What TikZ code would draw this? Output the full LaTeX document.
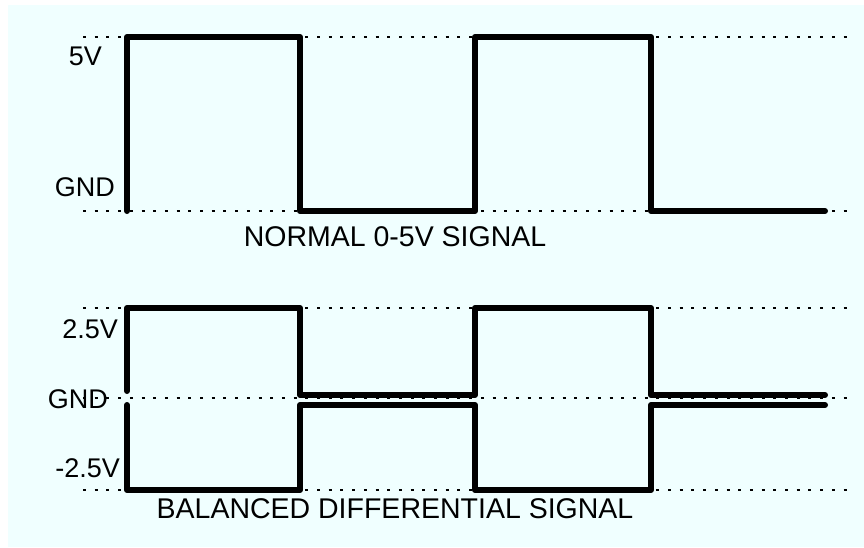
\documentclass[tikz,border=0pt]{standalone}
\usepackage{fontspec}
\setmainfont{Liberation Sans}
\definecolor{bgcyan}{RGB}{240,255,255}
\tikzset{
  guide/.style={line width=2pt, dash pattern=on 3pt off 8.7pt},
  wave/.style={line width=6pt, line cap=round, line join=round},
  lbl/.style={inner sep=0pt, font=\fontsize{27}{30}\selectfont},
  title/.style={inner sep=0pt, font=\fontsize{28.5}{32}\selectfont}
}
\begin{document}
\begin{tikzpicture}[x=1pt,y=-1pt]
\useasboundingbox (0,0) rectangle (864,547);
\fill[white] (0,0) rectangle (864,547);
\fill[bgcyan] (8,5) rectangle (864,547);
% guide lines
\draw[guide] (83,37) -- (848,37);
\draw[guide] (83,211) -- (848,211);
\draw[guide] (83,308) -- (848,308);
\draw[guide] (83,398) -- (848,398);
\draw[guide] (83,490) -- (848,490);
% normal signal
\draw[wave] (127,211) -- (127,37) -- (300,37) -- (300,211) -- (475,211) -- (475,37) -- (651,37) -- (651,211) -- (825,211);
% balanced signal (positive)
\draw[wave] (127,391) -- (127,308) -- (300,308) -- (300,395) -- (475,395) -- (475,308) -- (651,308) -- (651,395) -- (825,395);
% balanced signal (negative)
\draw[wave] (127,405) -- (127,490) -- (300,490) -- (300,405) -- (475,405) -- (475,490) -- (651,490) -- (651,405) -- (825,405);
% labels
\node[lbl, anchor=east] (v5) at (102,56) {5V};
\node[lbl, anchor=east] (g1) at (115,187) {GND};
\node[title] (t1) at (395,237) {NORMAL 0-5V SIGNAL};
\node[lbl, anchor=east] (v25) at (118,329) {2.5V};
\node[lbl, anchor=east] (g2) at (108,399) {GND};
\node[lbl, anchor=east] (vm25) at (120,468) {-2.5V};
\node[title] (t2) at (395,509) {BALANCED DIFFERENTIAL SIGNAL};
\end{tikzpicture}
\end{document}
